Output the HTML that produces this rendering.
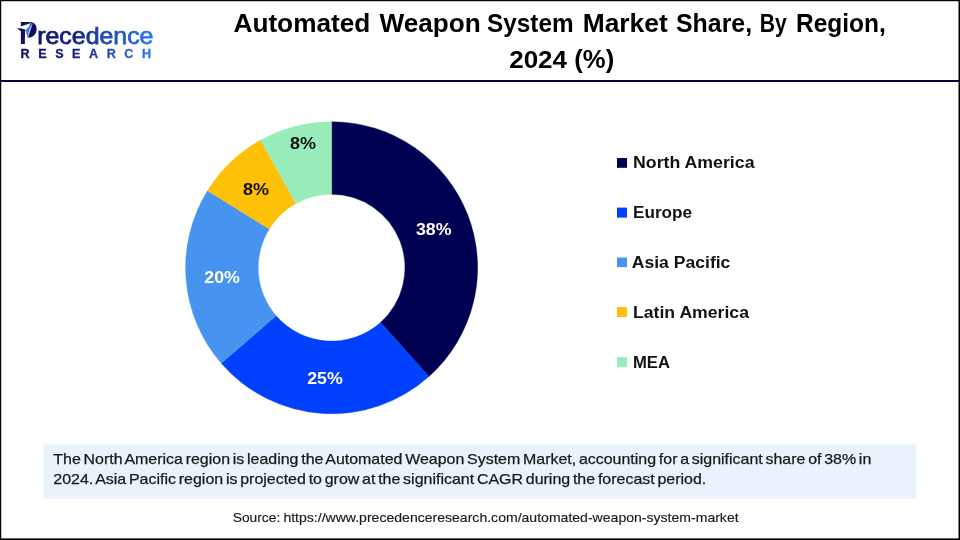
<!DOCTYPE html>
<html lang="en"><head><meta charset="utf-8"><title>Automated Weapon System Market Share, By Region, 2024 (%)</title>
<style>
html,body{margin:0;padding:0;background:#fff;}
body{width:960px;height:540px;overflow:hidden;position:relative;font-family:"Liberation Sans",sans-serif;}
svg{position:absolute;left:0;top:0;display:block;}
text{font-family:"Liberation Sans",sans-serif;}
</style></head><body>
<svg width="960" height="540" viewBox="0 0 960 540">
<defs>
<linearGradient id="lg" gradientUnits="userSpaceOnUse" x1="20" y1="0" x2="154" y2="0">
<stop offset="0" stop-color="#10105a"/><stop offset="0.4" stop-color="#16207c"/><stop offset="0.62" stop-color="#1f47b0"/><stop offset="1" stop-color="#2b7bea"/>
</linearGradient>
</defs>
<rect x="0" y="0" width="960" height="540" fill="#fff"/>
<!-- caption box -->
<rect x="43.2" y="444.5" width="873" height="54.2" fill="#eaf3fb"/>
<!-- header rule -->
<rect x="0" y="80" width="960" height="2" fill="#07073a"/>
<!-- outer border -->
<rect x="0" y="0" width="960" height="1.2" fill="#000"/>
<rect x="0" y="0" width="1.2" height="540" fill="#000"/>
<rect x="958.5" y="0" width="1.5" height="540" fill="#000"/>
<rect x="0" y="538.4" width="960" height="1.6" fill="#000"/>

<!-- logo -->
<g fill="url(#lg)">
<text x="19.1" y="44.3" font-size="31" font-weight="bold" textLength="18.6" lengthAdjust="spacingAndGlyphs">P</text>
<text x="37.2" y="43.8" font-size="23.2" textLength="116.3" lengthAdjust="spacingAndGlyphs" stroke="url(#lg)" stroke-width="0.75">recedence</text>
<text x="20.6" y="57.5" font-size="12.6" font-weight="bold" textLength="130.5" lengthAdjust="spacing" stroke="url(#lg)" stroke-width="0.3">RESEARCH</text>
</g>
<polygon points="20.6,26.6 31.2,23 25.8,29.7 20.6,28.4" fill="#fff"/>
<polygon points="25,30.3 25.7,30.1 27.4,36.6 27.6,38 25,38" fill="#fff"/>
<path d="M32.2 23.3C36.6 25.2 37.3 32.6 33.2 36.1C31.6 37.4 29.8 37.9 27.6 37.8L29.6 31.5Z" fill="#10105a"/>
<polygon points="16.9,28.2 21.2,28.6 25.6,29.9 24.9,32.6 21.2,31.4" fill="#10105a"/>
<polygon points="25.7,30 31.9,23.6 27.4,36.6" fill="#2f7fe8"/>
<polygon points="31.9,23.6 32.5,23.8 28.1,37.2 27.4,36.6" fill="#cfe0fa"/>
<!-- title -->
<g font-weight="bold" fill="#000" font-size="25.2">
<text x="233.46" y="31.6" textLength="136.9" lengthAdjust="spacingAndGlyphs">Automated</text>
<text x="379.5" y="31.6" textLength="101.31" lengthAdjust="spacingAndGlyphs">Weapon</text>
<text x="487.03" y="31.6" textLength="86.55" lengthAdjust="spacingAndGlyphs">System</text>
<text x="582.7" y="31.6" textLength="85.01" lengthAdjust="spacingAndGlyphs">Market</text>
<text x="676.01" y="31.6" textLength="76.09" lengthAdjust="spacingAndGlyphs">Share,</text>
<text x="759.76" y="31.6" textLength="27.01" lengthAdjust="spacingAndGlyphs">By</text>
<text x="796.03" y="31.6" textLength="89.79" lengthAdjust="spacingAndGlyphs">Region,</text>
<text x="509.2" y="67.8" font-size="23.9" textLength="57.85" lengthAdjust="spacingAndGlyphs">2024</text>
<text x="574.28" y="67.9" textLength="39.91" lengthAdjust="spacingAndGlyphs">(%)</text>
</g>

<!-- donut -->
<path d="M331.60 121.70A146.0 146.0 0 0 1 428.95 376.51L380.54 322.40A73.4 73.4 0 0 0 331.60 194.30Z" fill="#000052" stroke="#000052" stroke-width="0.4"/>
<path d="M428.95 376.51A146.0 146.0 0 0 1 221.26 363.31L276.13 315.77A73.4 73.4 0 0 0 380.54 322.40Z" fill="#0040ff" stroke="#0040ff" stroke-width="0.4"/>
<path d="M221.26 363.31A146.0 146.0 0 0 1 207.54 190.73L269.23 229.00A73.4 73.4 0 0 0 276.13 315.77Z" fill="#4694ef" stroke="#4694ef" stroke-width="0.4"/>
<path d="M207.54 190.73A146.0 146.0 0 0 1 260.62 140.12L295.91 203.56A73.4 73.4 0 0 0 269.23 229.00Z" fill="#ffc008" stroke="#ffc008" stroke-width="0.4"/>
<path d="M260.62 140.12A146.0 146.0 0 0 1 331.60 121.70L331.60 194.30A73.4 73.4 0 0 0 295.91 203.56Z" fill="#98ecb9" stroke="#98ecb9" stroke-width="0.4"/>
<g font-weight="bold" font-size="16" fill="#fff">
<text x="416" y="234.7" textLength="35.5" lengthAdjust="spacingAndGlyphs">38%</text>
<text x="307.2" y="383.7" textLength="35.5" lengthAdjust="spacingAndGlyphs">25%</text>
<text x="204.3" y="283" textLength="35.5" lengthAdjust="spacingAndGlyphs">20%</text>
</g>
<g font-weight="bold" font-size="16" fill="#111">
<text x="242.9" y="195" textLength="26" lengthAdjust="spacingAndGlyphs">8%</text>
<text x="290" y="149" textLength="26" lengthAdjust="spacingAndGlyphs">8%</text>
</g>

<!-- legend -->
<g>
<rect x="617" y="158" width="10" height="9.8" fill="#000052"/>
<rect x="617" y="207.6" width="10" height="10" fill="#0040ff"/>
<rect x="617" y="257.5" width="10" height="9.6" fill="#4694ef"/>
<rect x="617" y="307.1" width="10" height="9.9" fill="#ffc008"/>
<rect x="617" y="357.1" width="10" height="10" fill="#98ecb9"/>
</g>
<g font-weight="bold" font-size="15.8" fill="#111">
<text x="633" y="167.8" textLength="121.5" lengthAdjust="spacingAndGlyphs">North America</text>
<text x="633" y="217.6" textLength="59" lengthAdjust="spacingAndGlyphs">Europe</text>
<text x="631.8" y="268.1" textLength="98.6" lengthAdjust="spacingAndGlyphs">Asia Pacific</text>
<text x="633" y="317.8" textLength="116" lengthAdjust="spacingAndGlyphs">Latin America</text>
<text x="633" y="367.7" textLength="37" lengthAdjust="spacingAndGlyphs">MEA</text>
</g>

<!-- caption -->
<g font-size="14.2" fill="#1a1a1a" stroke="#1a1a1a" stroke-width="0.25">
<text x="53.3" y="464.1" textLength="818" word-spacing="-1.5" lengthAdjust="spacingAndGlyphs">The North America region is leading the Automated Weapon System Market, accounting for a significant share of 38% in</text>
<text x="53.3" y="483.8" textLength="653" word-spacing="-1.5" lengthAdjust="spacingAndGlyphs">2024. Asia Pacific region is projected to grow at the significant CAGR during the forecast period.</text>
</g>
<g font-size="12.8" fill="#1a1a1a" stroke="#1a1a1a" stroke-width="0.15">
<text x="232.7" y="522" textLength="47.6" lengthAdjust="spacingAndGlyphs">Source:</text>
<text x="283.4" y="522" textLength="455.22" lengthAdjust="spacingAndGlyphs">https://www.precedenceresearch.com/automated-weapon-system-market</text>
</g>
</svg>
</body></html>
